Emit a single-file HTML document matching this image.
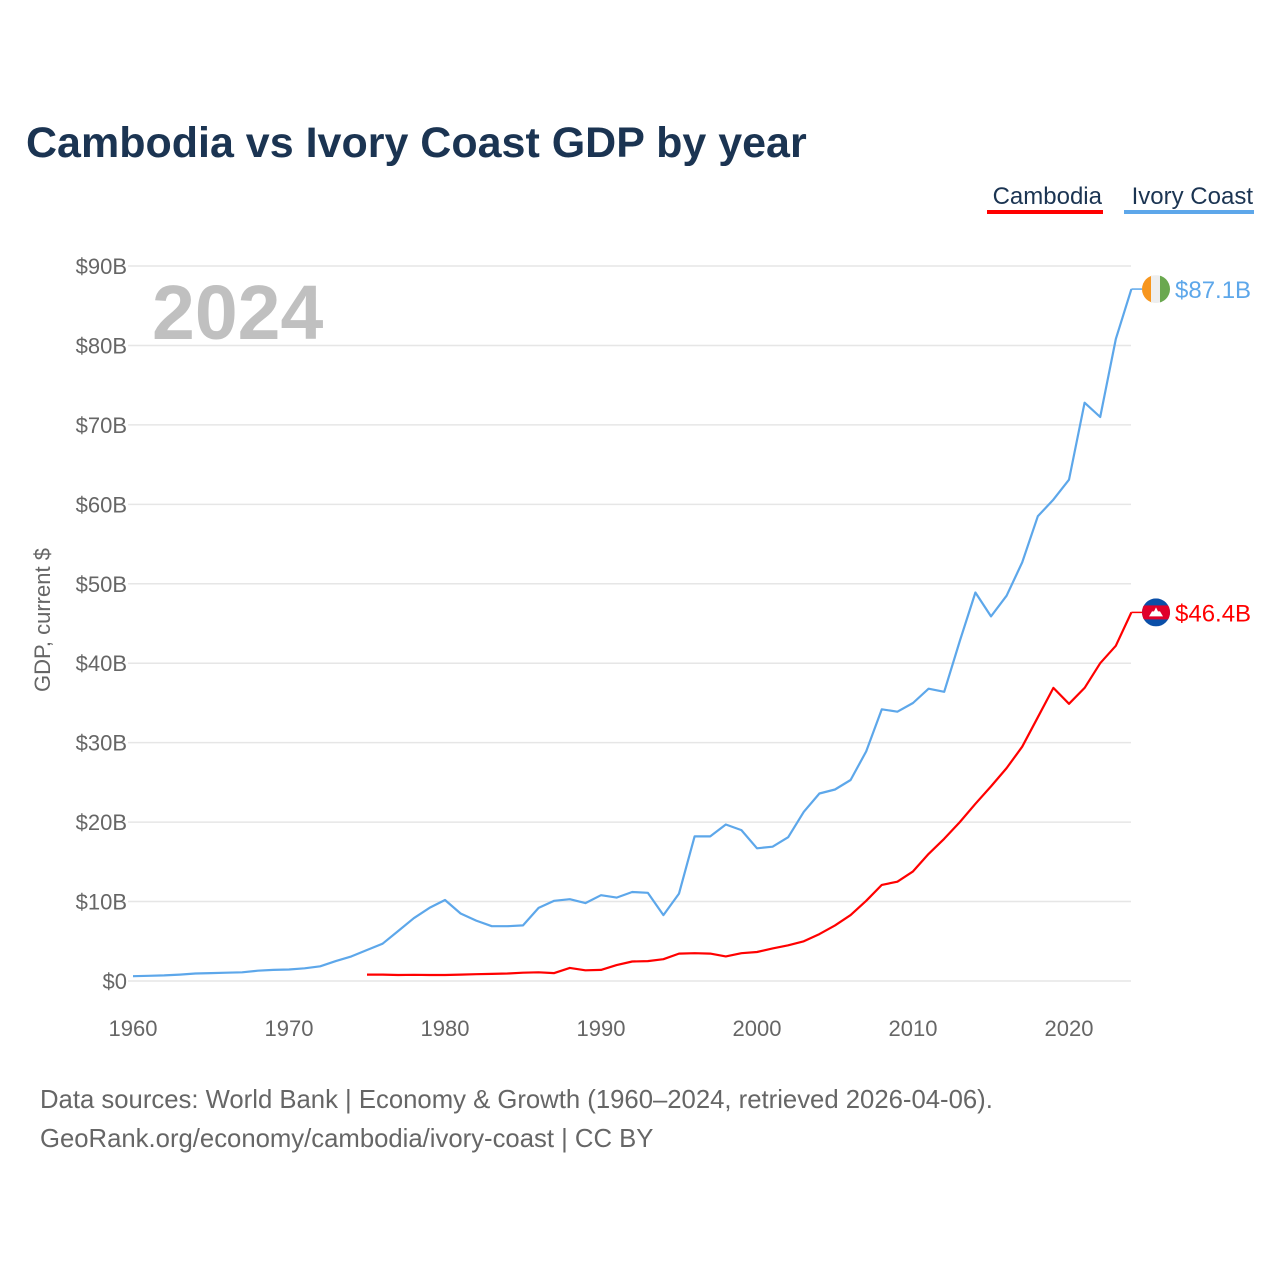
<!DOCTYPE html>
<html><head><meta charset="utf-8"><style>
body{margin:0;background:#fff;font-family:"Liberation Sans",sans-serif}
</style></head><body>
<svg id="c" width="1280" height="1280" xmlns="http://www.w3.org/2000/svg">
<text x="26" y="157" font-size="43" font-weight="bold" fill="#1b3452">Cambodia vs Ivory Coast GDP by year</text>
<g>
<text x="1102" y="204" font-size="24" fill="#1b3452" text-anchor="end">Cambodia</text>
<rect x="987" y="210" width="116" height="4" fill="#ff0000"/>
<text x="1253" y="204" font-size="24" fill="#1b3452" text-anchor="end">Ivory Coast</text>
<rect x="1124" y="210" width="130" height="4" fill="#5da7ea"/>
</g>
<text x="152" y="339" font-size="77" font-weight="bold" fill="#c0c0c0">2024</text>
<text transform="translate(50,620) rotate(-90)" font-size="22" fill="#666" text-anchor="middle">GDP, current $</text>
<g id="grid"></g><g id="lines"></g>
<text x="40" y="1108" font-size="25.7" fill="#666">Data sources: World Bank | Economy &amp; Growth (1960–2024, retrieved 2026-04-06).</text>
<text x="40" y="1147" font-size="25.7" fill="#666">GeoRank.org/economy/cambodia/ivory-coast | CC BY</text>
</svg>
<script>
const yTicks=[0,10,20,30,40,50,60,70,80,90];
const xTicks=[1960,1970,1980,1990,2000,2010,2020];
const civYears0=1960;
const civValues=[0.6,0.65,0.7,0.8,0.95,1.0,1.05,1.1,1.3,1.4,1.45,1.6,1.85,2.5,3.1,3.9,4.7,6.3,7.9,9.2,10.2,8.5,7.6,6.9,6.9,7.0,9.2,10.1,10.3,9.8,10.8,10.5,11.2,11.1,8.3,11.0,18.2,18.2,19.7,19.0,16.7,16.9,18.1,21.3,23.6,24.1,25.3,28.9,34.2,33.9,35.0,36.8,36.4,42.8,48.9,45.9,48.5,52.7,58.5,60.6,63.1,72.8,71.0,80.8,87.1];
const khmYears0=1975;
const khmValues=[0.8,0.8,0.75,0.78,0.75,0.76,0.8,0.85,0.9,0.95,1.05,1.1,1.0,1.65,1.35,1.4,2.0,2.45,2.5,2.75,3.45,3.5,3.45,3.1,3.5,3.65,4.1,4.5,5.0,5.9,7.0,8.3,10.1,12.1,12.5,13.8,16.0,17.9,20.0,22.3,24.5,26.8,29.5,33.2,36.9,34.9,36.9,40.0,42.2,46.4];
const NS="http://www.w3.org/2000/svg";
const X=y=>133+(y-1960)*15.6;
const Y=v=>981-v*7.944;
function mk(t,a,p){const e=document.createElementNS(NS,t);for(const k in a)e.setAttribute(k,a[k]);p.appendChild(e);return e;}
const grid=document.getElementById('grid');
yTicks.forEach(v=>{
 const l=mk('line',{x1:128,x2:1131,y1:Y(v),y2:Y(v),stroke:'#e6e6e6','stroke-width':1.5},grid);
 
 
 const t=mk('text',{x:127,y:Y(v)+8,'font-size':22,fill:'#666','text-anchor':'end'},grid);
 t.textContent='$'+v+(v?'B':'');
 
 
});
xTicks.forEach(y=>{
 const t=mk('text',{x:X(y),y:1036,'font-size':22,fill:'#666','text-anchor':'middle'},grid);
 t.textContent=y;
 
 
});
const lines=document.getElementById('lines');
function series(vals,y0,col,name){
 const d=vals.map((v,i)=>(i?'L':'M')+X(y0+i).toFixed(1)+','+Y(v).toFixed(1)).join('');
 const p=mk('path',{d:d,fill:'none',stroke:col,'stroke-width':2.2,'stroke-linejoin':'round'},lines);
 
 
 const last=vals[vals.length-1],ly=Y(last);
 mk('line',{x1:X(y0+vals.length-1),x2:1142,y1:ly,y2:ly,stroke:col,'stroke-width':1.5},lines);
 const t=mk('text',{x:1175,y:ly+9,'font-size':24,fill:col},lines);
 t.textContent='$'+last.toFixed(1)+'B';
 
 
 return ly;
}
const cy=series(civValues,civYears0,'#5da7ea','ivory-coast');
const ky=series(khmValues,khmYears0,'#ff0000','cambodia');
let g=mk('g',{},lines);


mk('clipPath',{id:'cc'},g);
mk('circle',{cx:1156,cy:cy,r:14},g.firstChild);
mk('rect',{x:1142,y:cy-14,width:10,height:28,fill:'#f7961e','clip-path':'url(#cc)'},g);
mk('rect',{x:1151,y:cy-14,width:10,height:28,fill:'#eee','clip-path':'url(#cc)'},g);
mk('rect',{x:1160,y:cy-14,width:12,height:28,fill:'#6aa84f','clip-path':'url(#cc)'},g);
g=mk('g',{},lines);


mk('clipPath',{id:'kc'},g);
mk('circle',{cx:1156,cy:ky,r:14},g.firstChild);
mk('rect',{x:1142,y:ky-14,width:28,height:28,fill:'#0a4fa8','clip-path':'url(#kc)'},g);
mk('rect',{x:1142,y:ky-7,width:28,height:14,fill:'#e0002a','clip-path':'url(#kc)'},g);
mk('path',{d:`M1149,${ky+4}L1163,${ky+4}L1160,${ky-1}L1158,${ky-1}L1156,${ky-5}L1154,${ky-1}L1152,${ky-1}Z`,fill:'#fff'},g);
</script>
</body></html>
